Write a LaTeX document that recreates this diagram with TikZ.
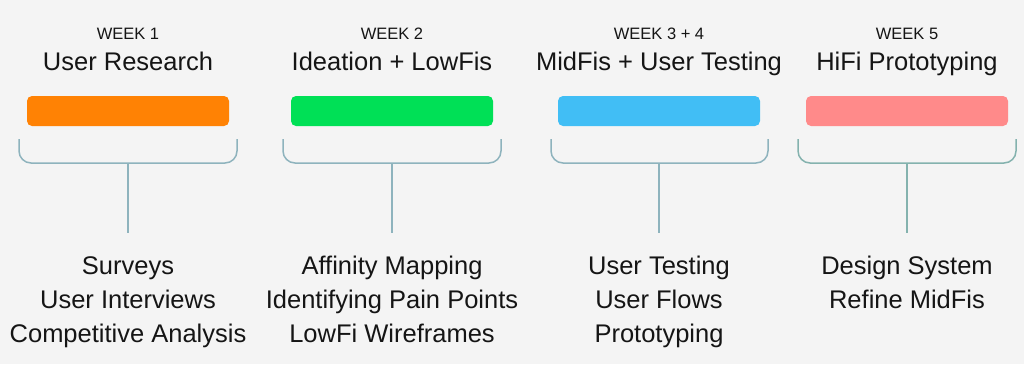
\documentclass[tikz,border=0pt]{standalone}
\usepackage{fontspec}
\setmainfont{Liberation Sans}
\usetikzlibrary{positioning}
\definecolor{tl-bg}{HTML}{F4F4F4}
\definecolor{tl-ink}{HTML}{151515}
\definecolor{tl-line}{HTML}{8EB3BD}
\definecolor{tl-line5}{HTML}{84B2AE}
\definecolor{wk-orange}{HTML}{FF8204}
\definecolor{wk-green}{HTML}{00E056}
\definecolor{wk-blue}{HTML}{41BEF5}
\definecolor{wk-pink}{HTML}{FF8A8A}

\begin{document}
\begin{tikzpicture}[x=1pt, y=-1pt,
  week/.style={anchor=base, inner sep=0pt, text=tl-ink,
               font=\fontsize{16.5}{20}\selectfont},
  phase/.style={anchor=base, inner sep=0pt, text=tl-ink,
                font=\fontsize{25.5}{30}\selectfont},
  bar/.style={rectangle, rounded corners=5pt, minimum width=202pt,
              minimum height=30pt, inner sep=0pt},
  brace/.style={draw=tl-line, line width=1.5pt, rounded corners=12pt},
  stem/.style={draw=tl-line, line width=1.5pt},
  % anchored on the baseline of the last line
  tasks/.style={anchor=base, inner sep=0pt, align=center, text=tl-ink,
                font=\fontsize{25.5}{34}\selectfont}
]
  \fill[tl-bg] (0,0) rectangle (1024,364);
  \useasboundingbox (0,0) rectangle (1024,364);

  % Week 1
  \node[week]  (wk1)    at (128,39)  {WEEK 1};
  \node[phase] (ph1)    at (128,70)  {User Research};
  \node[bar, fill=wk-orange] (bar1) at (128,111) {};
  \coordinate (knot1) at (128,163);
  \coordinate (foot1) at (128,233);
  \node[tasks] (tasks1) at (128,342) {Surveys\\User Interviews\\Competitive Analysis};

  % Week 2
  \node[week]  (wk2)    at (392,39)  {WEEK 2};
  \node[phase] (ph2)    at (392,70)  {Ideation + LowFis};
  \node[bar, fill=wk-green] (bar2) at (392,111) {};
  \coordinate (knot2) at (392,163);
  \coordinate (foot2) at (392,233);
  \node[tasks] (tasks2) at (392,342) {Affinity Mapping\\Identifying Pain Points\\LowFi Wireframes};

  % Week 3 + 4
  \node[week]  (wk3)    at (659,39)  {WEEK 3 + 4};
  \node[phase] (ph3)    at (659,70)  {MidFis + User Testing};
  \node[bar, fill=wk-blue] (bar3) at (659,111) {};
  \coordinate (knot3) at (659,163);
  \coordinate (foot3) at (659,233);
  \node[tasks] (tasks3) at (659,342) {User Testing\\User Flows\\Prototyping};

  % Week 5
  \node[week]  (wk5)    at (907,39)  {WEEK 5};
  \node[phase] (ph5)    at (907,70)  {HiFi Prototyping};
  \node[bar, fill=wk-pink] (bar5) at (907,111) {};
  \coordinate (knot5) at (907,163);
  \coordinate (foot5) at (907,233);
  \node[tasks] (tasks5) at (907,308) {Design System\\Refine MidFis};

  % braces and stems
  \draw[brace] (19,139)  |- (knot1) -| (237,139);
  \draw[stem]  (knot1) -- (foot1);
  \draw[brace] (283,139) |- (knot2) -| (501,139);
  \draw[stem]  (knot2) -- (foot2);
  \draw[brace] (551,139) |- (knot3) -| (768,139);
  \draw[stem]  (knot3) -- (foot3);
  \draw[brace, draw=tl-line5] (798,139) |- (knot5) -| (1016,139);
  \draw[stem, draw=tl-line5]  (knot5) -- (foot5);
\end{tikzpicture}
\end{document}
